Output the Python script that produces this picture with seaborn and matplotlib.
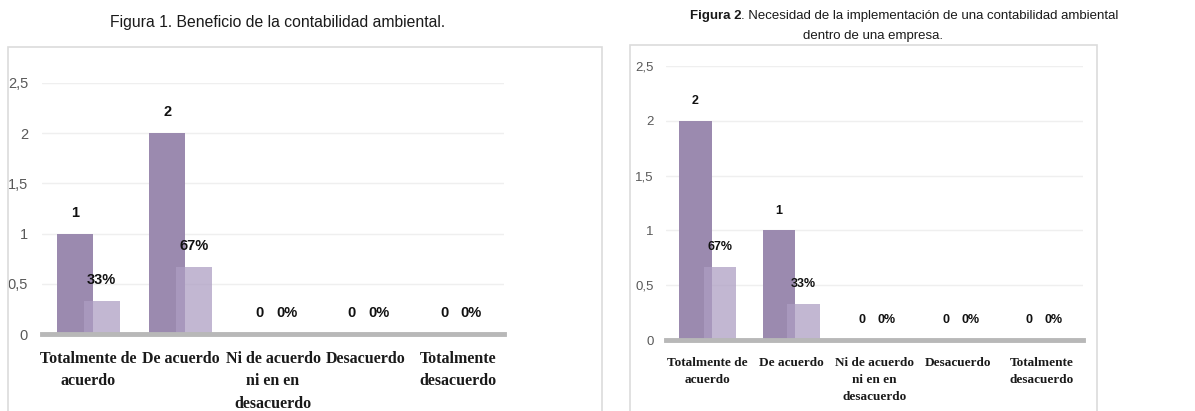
import pandas as pd
import seaborn as sns
import matplotlib.pyplot as plt
from matplotlib.patches import Rectangle
from matplotlib.ticker import FuncFormatter

# datos
categorias = ["Totalmente de\nacuerdo", "De acuerdo", "Ni de acuerdo\nni en en\ndesacuerdo",
              "Desacuerdo", "Totalmente\ndesacuerdo"]
fig1_n = [1, 2, 0, 0, 0]
fig1_pct = [0.33, 0.67, 0, 0, 0]
fig2_n = [2, 1, 0, 0, 0]
fig2_pct = [0.67, 0.33, 0, 0, 0]
yticks = [0, 0.5, 1, 1.5, 2, 2.5]

titulo1 = "Figura 1. Beneficio de la contabilidad ambiental."
titulo2_bold = "Figura 2"
titulo2_resto = ". Necesidad de la implementación de una contabilidad ambiental"
titulo2_linea2 = "dentro de una empresa."

DARK = "#9b8aaf"
LIGHT = "#ad9ec3"
SANS = ["Liberation Sans", "DejaVu Sans"]
SERIF = ["Liberation Serif", "DejaVu Serif"]

sns.set_style("white")
plt.rcParams["font.family"] = SANS

W, H = 1195, 411
fig = plt.figure(figsize=(W / 100, H / 100), dpi=100)


def px(x0, y0, x1, y1):
    # convierte pixeles (origen arriba) a fracciones de figura
    return [x0 / W, 1 - y1 / H, (x1 - x0) / W, (y1 - y0) / H]


def grafico(ax, n, pct, tick_fs, lab_fs, pad, ypad):
    df = pd.DataFrame({
        "cat": categorias * 2,
        "valor": n + pct,
        "serie": ["n"] * len(n) + ["pct"] * len(pct),
    })
    sns.barplot(data=df, x="cat", y="valor", hue="serie", order=categorias,
                palette={"n": DARK, "pct": LIGHT}, width=0.585, gap=-0.335,
                legend=False, ax=ax, linewidth=0, saturation=1)
    for bar in ax.containers[1]:
        bar.set_alpha(0.74)
    ax.bar_label(ax.containers[0], labels=[str(v) for v in n], padding=pad,
                 fontsize=lab_fs, fontweight="bold", color="#111111")
    ax.bar_label(ax.containers[1], labels=[f"{round(v * 100)}%" for v in pct],
                 padding=pad, fontsize=lab_fs, fontweight="bold", color="#111111")
    ax.set_ylim(0, 2.5)
    ax.set_yticks(yticks)
    ax.yaxis.set_major_formatter(FuncFormatter(lambda v, p: f"{v:g}".replace(".", ",")))
    ax.yaxis.grid(True, color="#efefef", lw=1)
    ax.set_axisbelow(True)
    for s in ["top", "right", "left"]:
        ax.spines[s].set_visible(False)
    ax.spines["bottom"].set_color("#b8b8b8")
    ax.spines["bottom"].set_linewidth(3.5)
    ax.tick_params(axis="y", length=0, labelsize=tick_fs, labelcolor="#595959", pad=ypad)
    ax.set_xlabel("")
    ax.set_ylabel("")


# marcos de cada grafico
fig.patches.append(Rectangle((8 / W, -0.02), 594 / W, (H - 47) / H + 0.02,
                             transform=fig.transFigure, fill=False,
                             edgecolor="#dcdcdc", lw=1.2))
fig.patches.append(Rectangle((630 / W, -0.02), 467 / W, (H - 45) / H + 0.02,
                             transform=fig.transFigure, fill=False,
                             edgecolor="#dcdcdc", lw=1.2))

ax1 = fig.add_axes(px(42, 83, 504, 334))
grafico(ax1, fig1_n, fig1_pct, 10.5, 10.5, 10, 10)
ax1.set_xticks(range(len(categorias)))
ax1.set_xticklabels(categorias, family=SERIF, fontweight="bold", fontsize=11.5,
                    color="#1a1a1a", linespacing=1.55)
ax1.tick_params(axis="x", length=0, pad=12)

ax2 = fig.add_axes(px(666, 66, 1083, 340))
grafico(ax2, fig2_n, fig2_pct, 9.5, 9, 10, 9)
ax2.set_xticks(range(len(categorias)))
ax2.set_xticklabels(categorias, family=SERIF, fontweight="bold", fontsize=9.5,
                    color="#1a1a1a", linespacing=1.6)
ax2.tick_params(axis="x", length=0, pad=12)

# titulos
fig.text(278 / W, 1 - 22 / H, titulo1, ha="center", va="center", fontsize=11.3,
         color="#1a1a1a")

t_b = fig.text(690 / W, 1 - 16 / H, titulo2_bold, ha="left", va="center",
               fontsize=9.5, fontweight="bold", color="#1a1a1a")
fig.canvas.draw()
bb = t_b.get_window_extent(fig.canvas.get_renderer())
fig.text(bb.x1 / W, 1 - 16 / H, titulo2_resto, ha="left", va="center", fontsize=9.5,
         color="#1a1a1a")
fig.text(873 / W, 1 - 36 / H, titulo2_linea2, ha="center", va="center", fontsize=9.5,
         color="#1a1a1a")

fig.savefig("out.png", dpi=100)
